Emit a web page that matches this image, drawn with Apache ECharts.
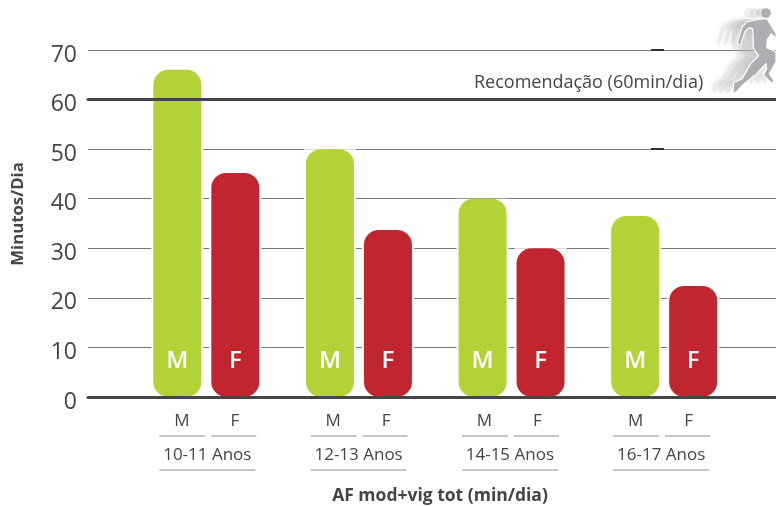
<!DOCTYPE html>
<html><head><meta charset="utf-8">
<style>html,body{margin:0;padding:0;background:#fff}#c{width:776px;height:506px}</style>
<script src="https://cdn.jsdelivr.net/npm/echarts@6/dist/echarts.min.js"></script>
</head><body><div id="c"></div>
<script>
const groups = ['10-11 Anos','12-13 Anos','14-15 Anos','16-17 Anos'];
const maleValues = [66,50,40,36.5];
const femaleValues = [45.2,33.7,30,22.4];
const yTicks = [0,10,20,30,40,50,60,70];
const recommendation = 60;
const recommendationLabel = 'Recomendação (60min/dia)';
const yTitle = 'Minutos/Dia';
const xTitle = 'AF mod+vig tot (min/dia)';
const GREEN='#b2d235', RED='#c12530', DARK='#444547', GREY='#8c8c8c', FONT='"Open Sans"';
const chart = echarts.init(document.getElementById('c'),null,{renderer:'canvas'});
const yAxisBase = {type:'value',min:0,max:70,interval:10};
function barSeries(name,data,color){return {
  name,type:'bar',xAxisIndex:1,yAxisIndex:1,data,barWidth:48,barGap:'20.8%',z:3,
  itemStyle:{color,borderRadius:15},
  label:{show:true,position:'insideBottom',distance:24,formatter:name,color:'#fff',fontFamily:FONT,fontWeight:600,fontSize:24}
};}
function halo(data,off){return {
  type:'custom',xAxisIndex:1,yAxisIndex:1,z:2,silent:true,data:data.map((v,i)=>[i,v]),
  renderItem(p,api){
    const t=api.coord([api.value(0),api.value(1)]);
    return {type:'rect',shape:{x:t[0]+off-26,y:t[1],width:52,height:397-t[1]},style:{fill:'#fff'}};
  }
};}
const annotations = {
  type:'custom',xAxisIndex:1,yAxisIndex:1,z:4,silent:true,clip:false,data:groups.map((g,i)=>[i,0]),
  renderItem(p,api){
    const i=api.value(0),c=api.coord([i,0])[0]-i*1.35,y=api.coord([i,0])[1];
    const L=(a,b,yy)=>({type:'line',shape:{x1:c+a,y1:y+yy,x2:c+b,y2:y+yy},style:{stroke:GREY,lineWidth:1}});
    const T=(s,x,yy)=>({type:'text',style:{text:s,x:c+x,y:y+yy,align:'center',verticalAlign:'middle',fill:DARK,font:'17px '+FONT}});
    return {type:'group',children:[
      T('M',-24.5,24.5),T('F',28.5,24.5),L(-47,-1,39),L(5,50,39),
      T(groups[i],1,58),L(-47,49,73)
    ]};
  }
};
// decorative runner silhouette (outline, in crop units)
const runnerBody = [[155,42],[112,50],[96,66],[86,100],[82,116],[92,120],[96,104],[106,78],[118,68],[128,72],[130,104],[130,130],[146,152],[122,176],[96,222],[72,232],[68,262],[78,262],[100,238],[140,206],[168,176],[170,192],[160,210],[186,236],[192,226],[178,206],[198,170],[198,140],[170,128],[172,104],[184,86],[198,100],[198,85],[182,60],[172,42]];
const runnerParts = (dx,o,f,st)=>({type:'polygon',z:5,x:710+dx,y:5,scaleX:1/3,scaleY:1/3,silent:true,
  shape:{points:runnerBody},style:{fill:f,opacity:o,stroke:st||null,lineWidth:st?3.5:0,shadowBlur:st?0:5,shadowColor:f}});
const ghostHead = (dx,o)=>({type:'circle',z:5,silent:true,shape:{cx:766+dx,cy:13,r:5},style:{fill:'#b4b5b8',opacity:o}});
chart.setOption({
  animation:false,backgroundColor:'#fff',
  grid:[{left:88,right:0,top:50,height:347},{left:130,width:610.5,top:50,height:347}],
  xAxis:[
    {gridIndex:0,type:'value',min:0,max:1,show:false},
    {gridIndex:1,type:'category',data:groups,show:false}
  ],
  yAxis:[
    {...yAxisBase,gridIndex:0,axisLine:{show:false},axisTick:{show:false},
     splitLine:{lineStyle:{color:'#777',width:1}},
     axisLabel:{color:DARK,fontFamily:FONT,fontSize:23,margin:11,verticalAlign:'top',lineHeight:10,customValues:yTicks}},
    {...yAxisBase,gridIndex:1,show:false}
  ],
  series:[
    halo(maleValues,-29),halo(femaleValues,29),
    barSeries('M',maleValues,GREEN),barSeries('F',femaleValues,RED),
    annotations,
    {type:'line',xAxisIndex:0,yAxisIndex:0,data:[],z:6,silent:true,
     markLine:{silent:true,symbol:'none',label:{show:false},animation:false,
       lineStyle:{color:DARK,width:3,type:'solid',cap:'round'},
       data:[{yAxis:recommendation},{yAxis:0}]}}
  ],
  graphic:[
    runnerParts(-7,.22,'#b4b5b8'),runnerParts(-14,.2,'#b4b5b8'),runnerParts(-21,.16,'#b4b5b8'),
    ghostHead(-5,.35),ghostHead(-11,.3),ghostHead(-17,.2),
    runnerParts(0,1,'#adaeb1','#ffffff'),
    {type:'circle',z:5,silent:true,shape:{cx:766,cy:13,r:4.8},style:{fill:'#adaeb1'}},
    {type:'text',z:7,style:{text:recommendationLabel,x:474,y:83,verticalAlign:'middle',fill:DARK,font:'18px '+FONT}},
    {type:'text',z:7,style:{text:xTitle,x:440,y:496,align:'center',verticalAlign:'middle',fill:DARK,font:'bold 17.5px '+FONT}},
    {type:'text',z:7,rotation:Math.PI/2,x:18,y:214,style:{text:yTitle,x:0,y:0,align:'center',verticalAlign:'middle',fill:DARK,font:'bold 16.8px '+FONT}},
    {type:'rect',z:1,shape:{x:651,y:49,width:13,height:2},style:{fill:'#333'}},
    {type:'rect',z:1,shape:{x:651,y:148,width:13,height:2},style:{fill:'#333'}}
  ]
});
</script></body></html>
